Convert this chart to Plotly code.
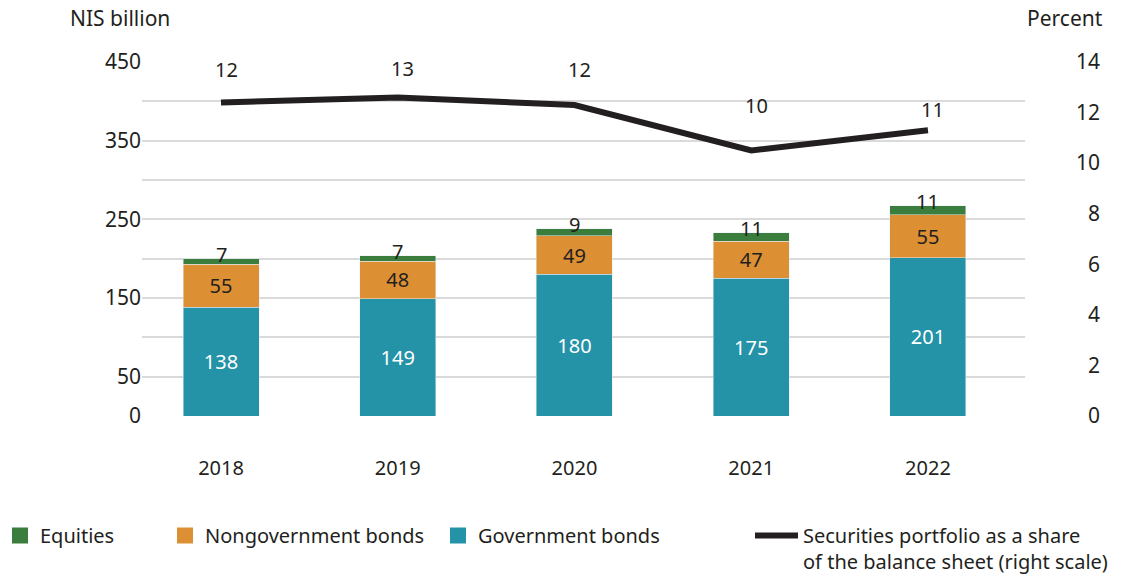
import plotly.graph_objects as go

years = ["2018", "2019", "2020", "2021", "2022"]
government = [138, 149, 180, 175, 201]
nongovernment = [55, 48, 49, 47, 55]
equities = [7, 7, 9, 11, 11]
share_pct = [12.4, 12.6, 12.3, 10.5, 11.3]
share_labels = ["12", "13", "12", "10", "11"]

left_ticks = [0, 50, 150, 250, 350, 450]
right_ticks = [0, 2, 4, 6, 8, 10, 12, 14]

FONT = "Noto Sans"
TXT = "#231f20"
C_EQ = "#3a7d3c"
C_NG = "#dd9033"
C_GOV = "#2492a7"
BAR_W = 0.43

fig = go.Figure()
fig.add_trace(go.Bar(
    x=years, y=government, name="Government bonds", marker_color=C_GOV,
    text=[str(v) for v in government], textposition="inside", insidetextanchor="middle",
    textfont=dict(color="white", size=20, family=FONT), width=BAR_W,
    showlegend=False, hoverinfo="skip",
))
fig.add_trace(go.Bar(
    x=years, y=nongovernment, name="Nongovernment bonds", marker_color=C_NG,
    text=[str(v) for v in nongovernment], textposition="inside", insidetextanchor="middle",
    textfont=dict(color=TXT, size=20, family=FONT), width=BAR_W,
    showlegend=False, hoverinfo="skip",
))
fig.add_trace(go.Bar(
    x=years, y=equities, name="Equities", marker_color=C_EQ,
    textposition="none", width=BAR_W, showlegend=False, hoverinfo="skip",
))
fig.add_trace(go.Scatter(
    x=years, y=share_pct, name="Securities portfolio as a share<br>of the balance sheet (right scale)",
    mode="lines", line=dict(color=TXT, width=6), yaxis="y2", legend="legend4",
    hoverinfo="skip",
))

# legend entries for the bar series (square swatches)
for name, col, leg in [("Equities", C_EQ, "legend"),
                       ("Nongovernment bonds", C_NG, "legend2"),
                       ("Government bonds", C_GOV, "legend3")]:
    fig.add_trace(go.Scatter(x=[None], y=[None], mode="markers", name=name,
                             marker=dict(symbol="square", size=16, color=col),
                             legend=leg, hoverinfo="skip"))

# equity labels at top of each stack
totals = [g + n + e for g, n, e in zip(government, nongovernment, equities)]
for i, (tot, e) in enumerate(zip(totals, equities)):
    fig.add_annotation(x=i, y=tot, xref="x", yref="y", text=str(e), showarrow=False, yshift=4,
                       font=dict(color=TXT, size=20, family=FONT))

label_shift = [33, 29, 35, 45, 21]
for i, (v, lab, s) in enumerate(zip(share_pct, share_labels, label_shift)):
    fig.add_annotation(x=i, y=v, xref="x", yref="y2", text=lab, showarrow=False, yshift=s, xshift=5,
                       font=dict(color=TXT, size=20, family=FONT))

fig.add_annotation(xref="paper", yref="paper", x=-0.084, y=1.124, xanchor="left", yanchor="middle",
                   text="NIS billion", showarrow=False, font=dict(color=TXT, size=21, family=FONT))
fig.add_annotation(xref="paper", yref="paper", x=1.0, y=1.124, xanchor="left", yanchor="middle",
                   text="Percent", showarrow=False, font=dict(color=TXT, size=21, family=FONT))

def leg(xpx, w=30):
    return dict(orientation="h", xref="container", yref="container",
                x=xpx / 1128, y=1 - 516 / 584, xanchor="left", yanchor="top",
                font=dict(size=20, family=FONT, color=TXT), valign="top",
                bgcolor="rgba(0,0,0,0)", itemwidth=w)

fig.update_layout(
    width=1128, height=584,
    barmode="stack",
    paper_bgcolor="white", plot_bgcolor="white",
    margin=dict(l=142, r=103, t=62, b=168, autoexpand=False),
    font=dict(family=FONT, size=20, color=TXT),
    showlegend=True,
    legend=leg(0),
    legend2=leg(165),
    legend3=leg(438),
    legend4=leg(750, 43),
    xaxis=dict(type="category", range=[-0.447, 4.549], showgrid=False, showline=False,
               zeroline=False, ticks="", ticklabelstandoff=38, tickfont=dict(size=20)),
    yaxis=dict(range=[0, 450], tickvals=left_ticks, showgrid=True, gridcolor="#dadada",
               gridwidth=1.5, zeroline=False, showline=False, ticks="",
               minor=dict(dtick=50, tick0=0, showgrid=True, gridcolor="#dadada", gridwidth=1.5),
               tickfont=dict(size=21)),
    yaxis2=dict(range=[0, 14], tickvals=right_ticks,
                ticktext=[("\u2007" + str(t)) if t < 10 else str(t) for t in right_ticks],
                overlaying="y", side="right", showgrid=False, zeroline=False, showline=False,
                ticks="", ticklabelstandoff=50, tickfont=dict(size=21)),
)

fig.write_html("out.html", config={"displayModeBar": False},
               post_script="document.body.style.margin='0';")
